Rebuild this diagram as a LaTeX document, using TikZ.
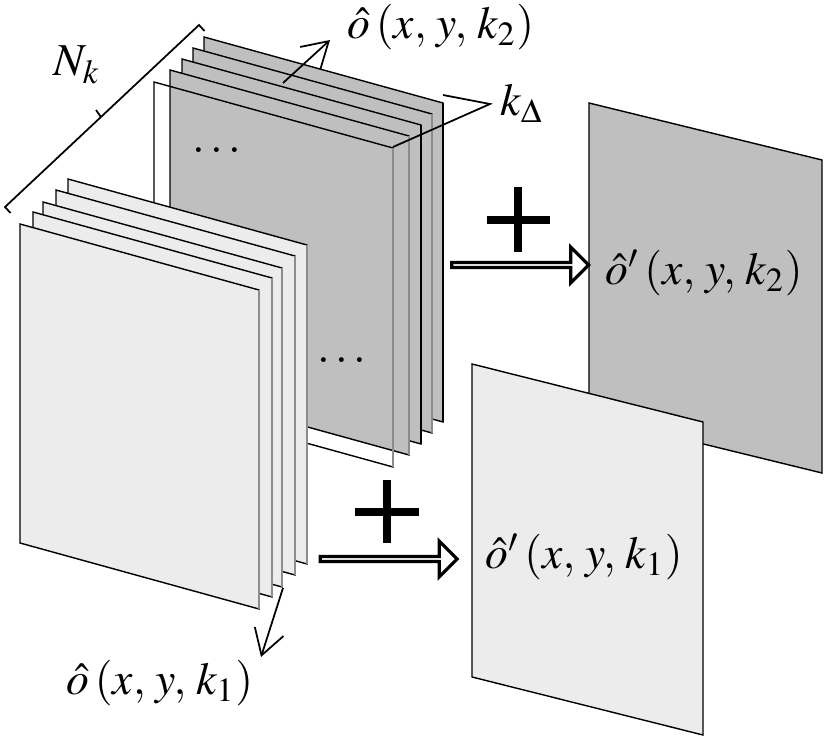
\documentclass[tikz,border=0pt]{standalone}
\usepackage{mathptmx}
\usepackage{tikz}
\usetikzlibrary{arrows.meta,shapes.arrows}
\definecolor{sheetlight}{gray}{0.925}
\definecolor{sheetdark}{gray}{0.75}
\definecolor{edgegray}{gray}{0.55}
\newcommand{\sheet}[4]{%
  \draw[#1] (#3,#4) -- ++(239,66) -- ++(0,319) -- ++(-239,-66) -- cycle;
  \draw[#2,line width=0.6pt] (#3+239,#4+66) -- ++(0,319);}

\begin{document}
\begin{tikzpicture}[x=0.1mm,y=-0.1mm,>={Straight Barb[length=2.5mm,width=3mm]},
  lbl/.style={font=\fontsize{13}{15}\selectfont,inner sep=0pt},
  light/.style={draw,fill=sheetlight,line width=0.4pt},
  dark/.style={draw,fill=sheetdark,line width=0.4pt},
  frame/.style={draw,line width=0.4pt},
  hollow/.style={single arrow,draw,fill=white,line width=0.9pt,
                 minimum height=13.7mm,minimum width=3.6mm,
                 single arrow head extend=1mm,single arrow head indent=0pt,
                 inner sep=0pt},
  plus/.style={line width=0.8mm}]
\useasboundingbox (0,0) rectangle (827,741);
\sheet{dark}{black}{204}{37}
\sheet{dark}{edgegray}{193}{48}
\sheet{dark}{black}{182}{59}
\sheet{dark}{edgegray}{170}{70}
\sheet{frame}{edgegray}{154}{82}
\node[lbl] (dots2) at (217,152) {$\cdots$};
\node[lbl] (dots1) at (342,362) {$\cdots$};
\sheet{light}{edgegray}{68}{179}
\sheet{light}{edgegray}{56}{190}
\sheet{light}{edgegray}{43}{202}
\sheet{light}{edgegray}{33}{212}
\sheet{light}{edgegray}{20}{224}
\draw[dark] (589,103) -- ++(233,57) -- ++(0,313) -- ++(-233,-57) -- cycle;
\draw[light] (472,364) -- ++(231,58) -- ++(0,313) -- ++(-231,-58) -- cycle;
\coordinate (nkA) at (5,207);
\coordinate (nkB) at (199,25);
\draw[line width=0.5pt] (10.5,213) -- (nkA) -- (nkB) -- (204.5,31);
\draw[line width=0.5pt] (101,117) -- (96,110);
\node[lbl] (nk) at (77,65) {$N_{k}$};
\coordinate (kd) at (490,104);
\draw[line width=0.5pt] (443,95) -- (kd) -- (393,147);
\node[lbl,anchor=west] (kdl) at (500,103) {$k_{\Delta}$};
\coordinate (o2from) at (283,83);
\coordinate (o2tip) at (330,40);
\draw[->,line width=0.5pt] (o2from) -- (o2tip);
\node[lbl] (o2) at (441,27) {$\hat{o}\left(x,\,y,\,k_{2}\right)$};
\coordinate (o1from) at (283,588);
\coordinate (o1tip) at (261,657);
\draw[->,line width=0.5pt] (o1from) -- (o1tip);
\node[lbl] (o1) at (160,683) {$\hat{o}\left(x,\,y,\,k_{1}\right)$};
\draw[plus] (487,220) -- (550,220) (518,187) -- (518,252);
\node[hollow] (sum2) at (519,265) {};
\draw[plus] (355,512) -- (419,512) (387,480) -- (387,543);
\node[hollow] (sum1) at (387.5,559) {};
\node[lbl] (op2) at (704,273) {$\hat{o}'\left(x,\,y,\,k_{2}\right)$};
\node[lbl] (op1) at (584,557) {$\hat{o}'\left(x,\,y,\,k_{1}\right)$};
\end{tikzpicture}
\end{document}
